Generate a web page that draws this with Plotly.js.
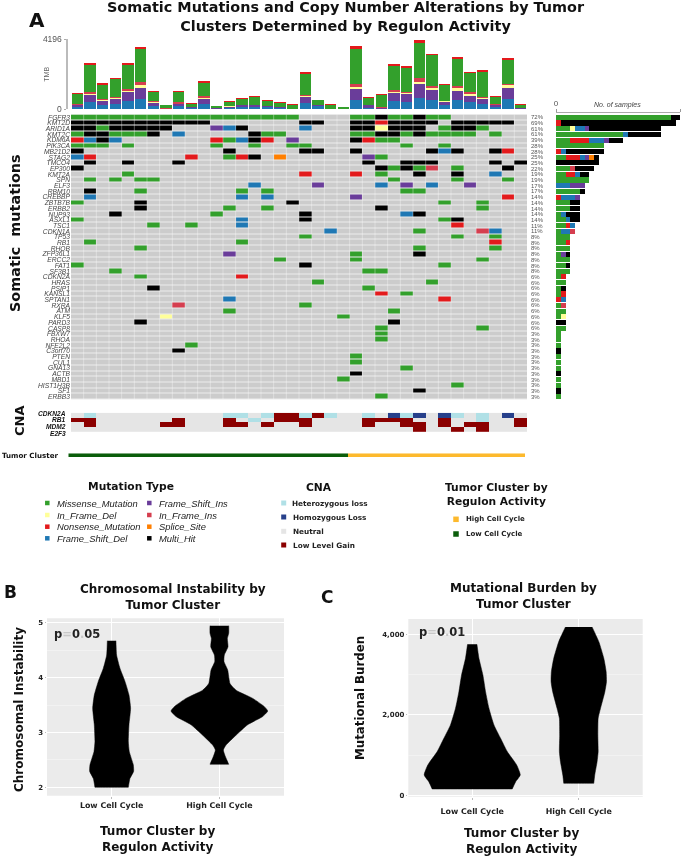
<!DOCTYPE html>
<html><head><meta charset="utf-8">
<script src="https://cdn.plot.ly/plotly-3.0.1.min.js"></script>
<style>html,body{margin:0;padding:0;background:#fff}#plot{width:685px;height:856px;filter:blur(.4px)}</style>
</head><body><div id="plot"></div>
<script>
const genes=['FGFR3','KMT2D','ARID1A','KMT2C','KDM6A','PIK3CA','MB21D2','STAG2','TMCO4','EP300','KMT2A','SPN','ELF3','RBM10','CREBBP','ZBTB7B','ERBB2','NUP93','ASXL1','TSC1','CDKN1A','TP53','RB1','RHOB','ZFP36L1','ERCC2','FAT1','SF3B1','CDKN2A','HRAS','PSIP1','KANSL1','SPTAN1','RXRA','ATM','KLF5','PARD3','CASP8','FBXW7','RHOA','NFE2L2','C3orf70','PTEN','CUL1','GNA13','ACTB','MBD1','HIST1H3B','SF1','ERBB3'];
const pctLabels=['72%','69%','61%','61%','39%','28%','28%','25%','25%','22%','19%','19%','17%','17%','14%','14%','14%','14%','14%','11%','11%','8%','8%','8%','8%','8%','8%','8%','6%','6%','6%','6%','6%','6%','6%','6%','6%','6%','3%','3%','3%','3%','3%','3%','3%','3%','3%','3%','3%','3%'];
// M missense, D in-frame del, N nonsense, F fs del, I fs ins, R in-frame ins, S splice, K multi-hit
const mutationRows=[
'MMMMMM MMMMMM MMMMMM ....MM KMMKMM ......',
'KKKKKK KKKKK. ...... KK..KK NKKKK. KKKKK.',
'KKMKKK KK...I FK.... F...KK DKKK.M KKM...',
'MKKMMM K.F... ..KMM. ....MM KKMKMM MM.M..',
'NFKF.. .....N MFKN.I ....KN MM.... ......',
'MMM.M. .....M ..M..M M..... ..M..M ......',
'K..... ...... K..... KK..K. ....KF K..KN.',
'FN.... ...N.. MNK.S. .....I M..... ......',
'.K..K. ..K... ...... .....K ..KKK. ...K.K',
'K..... ...... ...... ...... KMKMR. M...K.',
'....M. ...... ...... N...N. M..K.. K..F..',
'.M.M.M M..... ...... ...... .M.... M...M.',
'...... ...... ..F... .I.... F.I.F. .I....',
'.K...M ...... .M.M.. ...... ..MM.. ......',
'.F.... ...... .F.F.. ....I. ...... ....N.',
'M....K ...... .....K ...... .....M ..M...',
'.....K ...... M..M.. ...... K..... ..M...',
'...K.. .....M ...... K..... ..FK.. ......',
'M..... ...... .F.... K..... .....M K.....',
'...... M..M.. .F.... ...... ...... N.....',
'...... ...... ...... ..F... ...M.. ..RF..',
'...... ...... ...... M..... ...... M..M..',
'.M.... ...... .M.... ...... ...... ...N..',
'.....M ...... ...... ...... ...M.. ...M..',
'...... ...... I..... ....M. ...K.. ......',
'...... ...... ....M. ....M. ...... ..M...',
'M..... ...... ...... K..... .....M ......',
'...M.. ...... ...... .....M M..... ......',
'.....M ...... .N.... ...... ...... ......',
'...... ...... ...... .M.... ....M. ......',
'...... K..... ...... .....M ...... ......',
'...... ...... ...... ...... N.M... ......',
'...... ...... F..... ...... .....N ......',
'...... ..R... ...... M..... ...... ......',
'...... ...... M..... ...... .M.... ......',
'...... .D.... ...... ...M.. ...... ......',
'.....K ...... ...... ...... .K.... ......',
'...... ...... ...... ...... M..... ..M...',
'...... ...... ...... ...... M..... ......',
'...... ...... ...... ...... M..... ......',
'...... ...M.. ...... ...... ...... ......',
'...... ..K... ...... ...... ...... ......',
'...... ...... ...... ....M. ...... ......',
'...... ...... ...... ....M. ...... ......',
'...... ...... ...... ...... ..M... ......',
'...... ...... ...... ....K. ...... ......',
'...... ...... ...... ...M.. ...... ......',
'...... ...... ...... ...... ...... M.....',
'...... ...... ...... ...... ...K.. ......',
'...... ...... ...... ...... M..... ......'];
const cnaGenes=['CDKN2A','RB1','MDM2','E2F3'];
const cnaRows=[
'.H.... ...... HH.HGG HGH..H .LHL.L H.H.L.',
'GG.... ..G... G.H.GG G....G GGG..G ..H..G',
'.G.... .GG... GG.G.. G....G ..GG.G .GG..G',
'...... ...... ...... ...... ...G.. G.G...'];
const clusterRow='LLLLLL LLLLLL LLLLLL LLLLHH HHHHHH HHHHHH';
const tmbFsDel=[160,420,240,300,500,620,200,20,180,60,320,40,100,160,140,120,60,20,380,180,20,0,580,100,20,500,440,700,560,240,560,420,320,160,640,0];
const tmbFsIns=[80,440,260,340,520,680,180,20,140,60,320,20,60,80,100,60,60,20,360,60,0,0,660,140,60,500,460,820,600,200,560,400,320,100,640,100];
const tmbIfDel=[20,40,80,40,80,140,60,0,20,0,40,0,20,0,0,0,0,0,60,0,0,0,120,0,0,60,60,140,120,40,140,80,60,0,160,0];
const tmbIfIns=[40,120,40,60,100,180,40,20,80,40,100,0,20,40,40,40,40,0,40,20,0,0,180,40,40,100,100,200,140,40,160,140,60,60,100,0];
const tmbMissense=[600,1640,860,1060,1480,2000,560,180,620,160,820,120,260,340,460,280,220,220,1280,280,240,140,2080,380,740,1460,1440,2120,1820,920,1600,1140,1500,420,1440,160];
const tmbNonsense=[60,120,80,80,80,120,60,20,60,40,80,40,40,40,60,60,40,40,120,40,60,20,160,60,80,100,80,180,80,60,140,80,80,60,100,40];
const cinLowY=[4.67,4.41,4.17,3.93,3.68,3.44,3.14,2.83,2.65,2.41,2.29,2.16,2.0];
const cinLowW=[.04,.046,.077,.124,.161,.176,.161,.155,.164,.201,.204,.17,.155];
const cinHighY=[4.945,4.81,4.71,4.56,4.41,4.29,4.14,3.89,3.77,3.62,3.47,3.39,3.29,3.14,2.95,2.77,2.68,2.56,2.42];
const cinHighW=[.087,.087,.074,.08,.046,.043,.077,.099,.155,.31,.418,.449,.402,.263,.155,.062,.037,.056,.087];
const tmbLowY=[3750,3403,2989,2575,2161,1747,1416,1085,753,505,339,157];
const tmbLowW=[.044,.063,.1,.125,.157,.204,.266,.329,.417,.451,.408,.376];
const tmbHighY=[4181,3817,3403,3072,2823,2575,2161,1913,1499,1085,836,505,298];
const tmbHighW=[.125,.188,.235,.257,.26,.245,.204,.182,.179,.182,.172,.15,.141];
const clusterNames=['Low Cell Cycle','High Cell Cycle'];

const W=685,H=856;
const px=x=>x/W, py=y=>1-y/H;
const dom=(a,b)=>[px(a),px(b)], domY=(top,bot)=>[py(bot),py(top)];
const strip=s=>s.replace(/ /g,'');
const mutCodes='.MDNFIRSK';
const mutColors=['#CCCCCC','#33A02C','#FFFF99','#E31A1C','#1F78B4','#6A3D9A','#D53E4F','#FF7F00','#000000'];
const mutNames=['','Missense_Mutation','In_Frame_Del','Nonsense_Mutation','Frame_Shift_Del','Frame_Shift_Ins','In_Frame_Ins','Splice_Site','Multi_Hit'];
const cnaCodes='.HLG', cnaColors=['#E5E5E5','#B0E0E6','#27408B','#8B0000'];
const steps=c=>c.flatMap((k,i)=>[[i/c.length,k],[(i+1)/c.length,k]]);
const idx=Array.from({length:36},(_,i)=>i);
const SANS='"Liberation Sans",Arial,sans-serif', DJ='"DejaVu Sans",sans-serif';
const common={hoverinfo:'skip',showlegend:false};
const traces=[];
[[tmbFsDel,'#1F78B4'],[tmbFsIns,'#6A3D9A'],[tmbIfDel,'#FFFF99'],[tmbIfIns,'#D53E4F'],[tmbMissense,'#33A02C'],[tmbNonsense,'#E31A1C']].forEach(([v,c])=>
 traces.push({type:'bar',x:idx,y:v,marker:{color:c,line:{width:0}},xaxis:'x',yaxis:'y',...common}));
const mutZ=mutationRows.map(r=>strip(r).split('').map(c=>mutCodes.indexOf(c)));
traces.push({type:'heatmap',z:mutZ,x:idx,y:genes.map((_,i)=>i),zmin:-.5,zmax:8.5,colorscale:steps(mutColors),showscale:false,ygap:1,xaxis:'x2',yaxis:'y2',hoverinfo:'skip'});
[1,2,3,4,5,6,7,8].forEach(t=>traces.push({type:'bar',orientation:'h',y:genes.map((_,i)=>i),x:mutZ.map(r=>r.filter(v=>v===t).length),marker:{color:mutColors[t],line:{width:0}},xaxis:'x3',yaxis:'y3',...common}));
traces.push({type:'heatmap',z:cnaRows.map(r=>strip(r).split('').map(c=>cnaCodes.indexOf(c))),x:idx,y:[0,1,2,3],zmin:-.5,zmax:3.5,colorscale:steps(cnaColors),showscale:false,xaxis:'x4',yaxis:'y4',hoverinfo:'skip'});
traces.push({type:'heatmap',z:[strip(clusterRow).split('').map(c=>c==='L'?0:1)],x:idx,y:[0],zmin:-.5,zmax:1.5,colorscale:steps(['#0B5D0B','#FDB92D']),showscale:false,xaxis:'x5',yaxis:'y5',hoverinfo:'skip'});
// first and last profile points are repeated so the spline keeps the flat, square-cornered violin ends
const ends=a=>[a[0],a[0],...a,a[a.length-1],a[a.length-1]];
const violin=(c,y0,w0,ax)=>{const y=ends(y0),w=ends(w0);return {type:'scatter',mode:'lines',fill:'toself',fillcolor:'#000',line:{color:'#000',width:.5,shape:'spline',smoothing:.5},
 x:[...w.map(v=>c-v),...w.slice().reverse().map(v=>c+v)],y:[...y,...y.slice().reverse()],xaxis:'x'+ax,yaxis:'y'+ax,...common};};
traces.push(violin(1,cinLowY,cinLowW,6),violin(2,cinHighY,cinHighW,6),violin(1,tmbLowY,tmbLowW,7),violin(2,tmbHighY,tmbHighW,7));

const ann=[];
const T=(text,x,y,size,o={})=>ann.push({text,x:px(x),y:py(y),xref:'paper',yref:'paper',showarrow:false,xanchor:o.xa||'center',yanchor:'middle',align:o.xa||'center',textangle:o.rot||0,
 font:{family:o.fam||DJ,size,color:o.color||'#111',weight:o.w===undefined?700:o.w,style:o.style||'normal'}});
T('Somatic Mutations and Copy Number Alterations by Tumor<br>Clusters Determined by Regulon Activity',346.5,16,14.4);
T('A',37,20,20);T('B',10.5,592,17);T('C',326.5,597,17);
T('Somatic  mutations',15,233,14.4,{rot:-90});
T('CNA',19,421,13,{rot:-90});
T('Tumor Cluster',30,455,7.1,{});
T('TMB',47,74.7,7,{rot:-90,fam:SANS,w:400,color:'#666'});
T('No. of samples',617.5,105,7,{fam:SANS,w:400,style:'italic',color:'#444'});
pctLabels.forEach((t,i)=>ann.push({text:t,x:px(529),y:i,xref:'paper',yref:'y2',xanchor:'left',yanchor:'middle',showarrow:false,font:{family:SANS,size:6,color:'#555'}}));
const cnaLabelY=[413.7,419.7,426.3,433.3];
cnaGenes.forEach((g,i)=>T('<i>'+g+'</i>',68,cnaLabelY[i],6.6,{xa:'right',fam:SANS}));
T('Mutation Type',130.7,486,10.7);
const shapes=[];
const sq=(x,y,s,c)=>shapes.push({type:'rect',xref:'paper',yref:'paper',x0:px(x-s/2),x1:px(x+s/2),y0:py(y+s/2),y1:py(y-s/2),fillcolor:c,line:{width:0}});
const legOrder=[[1,47.3,54.5,503],[2,47.3,54.5,515],[3,47.3,54.5,526.7],[4,47.3,54.5,538.3],[5,149.3,156.5,503],[6,149.3,156.5,515],[7,149.3,156.5,526.7],[8,149.3,156.5,538.3]];
legOrder.forEach(([t,sx,lx,y])=>{sq(sx,y,4.5,mutColors[t]);T(mutNames[t],lx,y,9.4,{xa:'left',fam:SANS,w:400,style:'italic',color:'#222'});});
T('CNA',319,487.7,10.7);
[['Heterozygous loss',cnaColors[1],503,289.5],['Homozygous Loss',cnaColors[2],517,290.5],['Neutral',cnaColors[0],531.3,290.5],['Low Level Gain',cnaColors[3],545,290.5]].forEach(([n,c,y,x])=>{sq(283.7,y,5,c);T(n,x,y,7.3,{xa:'left',color:'#222'});});
T('Tumor Cluster by<br>Regulon Activity',496,494.7,10.7);
[['High Cell Cycle','#FDB92D',519.3],['Low Cell Cycle','#0B5D0B',534]].forEach(([n,c,y])=>{sq(456,y,5.5,c);T(n,464,y-.5,7,{xa:'left',color:'#222'});});
const pTxt=v=>"p<span style='color:#c8c8c8'>=</span>0<span style='color:#c8c8c8'>.</span>"+v;
T('Chromosomal Instability by<br>Tumor Cluster',173,596.5,12);
T('Chromosomal Instability',19,710,12,{rot:-90});
T('Tumor Cluster by<br>Regulon Activity',157.5,839,12);
T(pTxt('05'),77,633.7,11.5,{color:'#222'});
T('Mutational Burden by<br>Tumor Cluster',523,595.5,12);
T('Mutational Burden',360,698,11.8,{rot:-90});
T('Tumor Cluster by<br>Regulon Activity',521.7,840.5,12);
T(pTxt('01'),442,632,11.5,{color:'#222'});

const hid={visible:false,fixedrange:true};
const panelAxes=(xd,yd,rng,yt,ytx,minor,st)=>({
 x:{domain:xd,range:[.4,2.6],tickvals:[1,2],ticktext:clusterNames,ticks:'outside',ticklen:2,tickcolor:'#bbb',gridcolor:'#fff',gridwidth:1,showline:false,zeroline:false,ticklabelstandoff:st,tickfont:{family:DJ,size:7.9,color:'#222',weight:700}},
 y:{domain:yd,range:rng,tickvals:yt,ticktext:ytx,ticks:'outside',ticklen:1.5,tickcolor:'#bbb',gridcolor:'#fff',gridwidth:1,showline:false,zeroline:false,tickfont:{family:DJ,size:7,color:'#222',weight:700},
   minor:{tickvals:minor,showgrid:true,gridcolor:'#f6f6f6',gridwidth:.6,ticks:''}}});
const pB=panelAxes(dom(47,284),domY(618.3,795.7),[1.847,5.08],[2,3,4,5],['2','3','4','5'],[2.5,3.5,4.5],0);
const pC=panelAxes(dom(408.3,642.7),domY(619,796.7),[-35,4380],[0,2000,4000],['0','2,000','4,000'],[1000,3000],5);
const layout={width:W,height:H,margin:{l:0,r:0,t:0,b:0},paper_bgcolor:'#fff',plot_bgcolor:'#fff',barmode:'stack',bargap:.1,
 xaxis:{domain:dom(71,527),range:[-.5,35.5],...hid,anchor:'y'},
 yaxis:{domain:domY(39.3,109.3),range:[0,4196],anchor:'free',position:px(66),tickvals:[0,4196],ticktext:['0','4196'],ticks:'outside',ticklen:2.5,tickcolor:'#aaa',showline:true,linecolor:'#bbb',linewidth:1.5,showgrid:false,zeroline:false,tickfont:{family:SANS,size:8.5,color:'#555'},ticklabelstandoff:0},
 xaxis2:{domain:dom(71,527),range:[-.5,35.5],...hid,anchor:'y2',tickvals:idx.map(i=>i-.5),showgrid:false},
 yaxis2:{domain:domY(114.45,399.5),range:[49.5,-.5],anchor:'x2',tickvals:genes.map((_,i)=>i),ticktext:genes.map(g=>'<i>'+g+'</i>'),ticks:'',showgrid:false,zeroline:false,showline:false,tickfont:{family:SANS,size:6.7,color:'#444'}},
 xaxis3:{domain:dom(556,680.3),range:[0,26],anchor:'free',position:py(112),side:'top',tickvals:[0,26],ticktext:['0','26'],ticks:'outside',ticklen:3,tickcolor:'#999',showline:true,linecolor:'#aaa',linewidth:1,showgrid:false,zeroline:false,tickfont:{family:SANS,size:8,color:'#555'}},
 yaxis3:{domain:domY(114.45,399.5),range:[49.5,-.5],...hid,anchor:'x3'},
 xaxis4:{domain:dom(71,527),range:[-.5,35.5],...hid,anchor:'y4'},
 yaxis4:{domain:domY(412.8,432),range:[3.5,-.5],...hid,anchor:'x4'},
 xaxis5:{domain:dom(68.3,525),range:[-.5,35.5],...hid,anchor:'y5'},
 yaxis5:{domain:domY(453.3,457),range:[-.5,.5],...hid,anchor:'x5'},
 xaxis6:{...pB.x,anchor:'y6'},yaxis6:{...pB.y,anchor:'x6'},
 xaxis7:{...pC.x,anchor:'y7'},yaxis7:{...pC.y,anchor:'x7'},
 annotations:ann};
const bg=(a,c)=>({type:'rect',xref:'x'+a+' domain',yref:'y'+a+' domain',x0:0,x1:1,y0:0,y1:1,fillcolor:c,line:{width:0},layer:'below'});
const seps=idx.slice(1).map(i=>({type:'line',xref:'x2',yref:'y2 domain',x0:i-.5,x1:i-.5,y0:0,y1:1,line:{color:'rgba(255,255,255,.35)',width:1}}));
layout.shapes=[bg(2,'#ECECEC'),bg(6,'#EBEBEB'),bg(7,'#EBEBEB'),...seps,...shapes];
Plotly.newPlot('plot',traces,layout,{displayModeBar:false,staticPlot:true});
</script></body></html>
